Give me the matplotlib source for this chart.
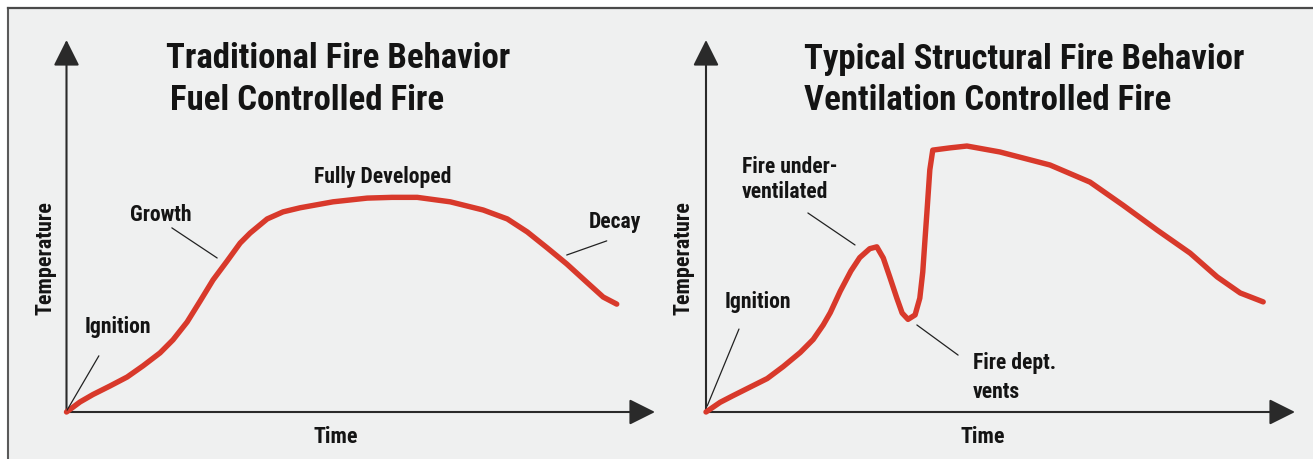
import matplotlib
matplotlib.use('Agg')
import matplotlib.pyplot as plt
from matplotlib import font_manager as fm
from matplotlib.lines import Line2D
from matplotlib.patches import Rectangle

# ---------------- data ----------------
trad_time = [0, 2.3, 4.5, 7.4, 10.3, 13.0, 15.9, 18.1, 20.5, 22.7, 24.9, 27.3, 29.5,
             31.2, 34.1, 36.8, 39.7, 45.3, 51.1, 55.3, 59.6, 65.2, 70.8, 74.9, 78.3,
             81.7, 85.0, 88.4, 91.2, 93.5]
trad_temp = [0, 2.7, 4.7, 7.0, 9.4, 12.4, 15.9, 19.4, 24.2, 29.8, 35.5, 40.6, 45.4,
             48.1, 51.9, 53.8, 54.9, 56.5, 57.5, 57.7, 57.7, 56.5, 54.3, 51.9, 48.4,
             44.1, 39.8, 34.9, 30.9, 29.0]

struct_time = [0, 2.4, 4.6, 7.5, 10.4, 13.1, 16.0, 18.2, 19.9, 21.1, 22.8, 24.6, 26.1,
               27.8, 29.0, 30.1, 31.2, 32.4, 33.3, 34.3, 35.5, 36.3, 36.8, 37.2, 37.5,
               38.0, 38.5, 41.4, 44.3, 49.9, 58.4, 65.2, 70.8, 76.6, 82.2, 86.8, 90.7,
               94.6]
struct_temp = [0, 2.6, 4.4, 6.7, 9.0, 12.2, 16.0, 19.5, 23.4, 26.7, 32.5, 37.9, 41.5,
               43.9, 44.4, 41.4, 36.3, 30.6, 26.6, 24.9, 26.1, 30.6, 37.6, 46.8, 53.5,
               65.1, 70.4, 71.0, 71.5, 69.9, 66.4, 61.8, 55.6, 48.9, 42.7, 36.3, 32.0,
               29.6]

trad_title = ["Traditional Fire Behavior", "Fuel Controlled Fire"]
struct_title = ["Typical Structural Fire Behavior", "Ventilation Controlled Fire"]
trad_notes = ["Fully Developed", "Growth", "Decay", "Ignition"]
struct_notes = ["Fire under-", "ventilated", "Ignition", "Fire dept.", "vents"]
x_label = "Time"
y_label = "Temperature"


# ---------------- font choice (a condensed bold face if one is installed) ----------------
def _font_index():
    files = [f.fname for f in fm.fontManager.ttflist]
    return {p.lower().replace(' ', '').split('/')[-1].rsplit('.', 1)[0]: p for p in files}


def pick_font(prefs):
    low = _font_index()
    for pref in prefs:
        if pref in low:
            return low[pref]
    for k, p in low.items():
        if ('narrow' in k or 'condensed' in k) and 'bold' in k and 'italic' not in k \
                and 'oblique' not in k and 'semi' not in k and 'extra' not in k:
            return p
    return None


BOLD_PREFS = ['liberationsansnarrow-bold', 'robotocondensed-bold', 'opensans-condensedbold',
              'opensanscondensed-bold', 'opensans_condensed-bold', 'notosans-condensedbold',
              'dejavusanscondensed-bold', 'arialnarrow-bold']
HEAVY_PREFS = ['robotocondensed-black', 'robotocondensed-extrabold',
               'notosans-condensedblack', 'notosans-condensedextrabold',
               'opensans-condensedextrabold'] + BOLD_PREFS

FONT_FILE = pick_font(BOLD_PREFS)
TITLE_FONT_FILE = pick_font(HEAVY_PREFS)


def fprops(size, heavy=False):
    f = TITLE_FONT_FILE if heavy else FONT_FILE
    if f:
        return fm.FontProperties(fname=f, size=size)
    return fm.FontProperties(family='DejaVu Sans', weight='bold', size=size)


# ---------------- style ----------------
W, H = 1313, 459
RED = '#d8392b'
AXC = '#2a2a2a'
BG = '#eff0f0'
TXT = '#141414'

fig = plt.figure(figsize=(W / 100, H / 100), dpi=100)
fig.patch.set_facecolor('white')
fig.add_artist(Rectangle((8 / W, 0), 1 - 8 / W, 1 - 8 / H, transform=fig.transFigure,
                         facecolor=BG, edgecolor='none', zorder=-5))
fig.add_artist(Line2D([7.5 / W, 7.5 / W], [0, 1 - 7.5 / H], transform=fig.transFigure,
                      color='#5a5a5a', lw=1.5, zorder=-4))
fig.add_artist(Line2D([7.5 / W, 1], [1 - 7.5 / H, 1 - 7.5 / H], transform=fig.transFigure,
                      color='#4a4a4a', lw=1.6, zorder=-4))


def make_axes(x0px, wpx):
    ax = fig.add_axes([x0px / W, (H - 412) / H, wpx / W, 372 / H])
    ax.set_xlim(0, 100)
    ax.set_ylim(0, 100)
    ax.patch.set_alpha(0)
    for s in ax.spines.values():
        s.set_visible(False)
    ax.set_xticks([])
    ax.set_yticks([])
    arrow = dict(arrowstyle='-|>,head_length=0.8,head_width=0.4', color=AXC,
                 lw=1.5, shrinkA=0, shrinkB=0, mutation_scale=20)
    ax.annotate('', xy=(1, 0), xytext=(0, 0), xycoords='axes fraction',
                textcoords='axes fraction', arrowprops=arrow)
    ax.annotate('', xy=(0, 1), xytext=(0, 0), xycoords='axes fraction',
                textcoords='axes fraction', arrowprops=arrow)
    return ax


def leader(ax, p0, p1):
    ax.annotate('', xy=p1, xytext=p0,
                arrowprops=dict(arrowstyle='-', color='#222222', lw=0.9,
                                shrinkA=0, shrinkB=0))


ax1 = make_axes(66.5, 588.5)
ax2 = make_axes(706, 589)

titles, notes, labels = [], [], []

# ---------------- left panel ----------------
ax1.plot(trad_time, trad_temp, color=RED, lw=3.9, solid_capstyle='round',
         solid_joinstyle='round', clip_on=False, zorder=3)
titles.append((ax1.text(16.9, 92.4, trad_title[0], va='baseline', ha='left', color=TXT), 347))
titles.append((ax1.text(17.6, 81.2, trad_title[1], va='baseline', ha='left', color=TXT), 272))
notes.append((ax1.text(53.7, 61.6, trad_notes[0], ha='center', va='baseline', color=TXT), 146))
notes.append((ax1.text(16.1, 51.3, trad_notes[1], ha='center', va='baseline', color=TXT), 66))
notes.append((ax1.text(93.2, 49.5, trad_notes[2], ha='center', va='baseline', color=TXT), 57))
notes.append((ax1.text(8.75, 21.2, trad_notes[3], ha='center', va='baseline', color=TXT), 70))
leader(ax1, (5.5, 15.1), (0.1, 0.5))
leader(ax1, (17.9, 49.5), (25.6, 41.4))
leader(ax1, (91.8, 46.0), (85.0, 42.2))
ax1.set_xlabel(x_label, va='baseline', color=TXT)
ax1.xaxis.set_label_coords(0.458, -0.083)
ax1.set_ylabel(y_label, va='center', ha='center', color=TXT)
ax1.yaxis.set_label_coords(-0.0357, 0.414)
labels += [(ax1.xaxis.label, 44), (ax1.yaxis.label, 117)]

# ---------------- right panel ----------------
ax2.plot(struct_time, struct_temp, color=RED, lw=3.9, solid_capstyle='round',
         solid_joinstyle='round', clip_on=False, zorder=3)
titles.append((ax2.text(16.6, 92.2, struct_title[0], va='baseline', ha='left', color=TXT), 438))
titles.append((ax2.text(16.6, 81.2, struct_title[1], va='baseline', ha='left', color=TXT), 372))
notes.append((ax2.text(6.1, 64.2, struct_notes[0], ha='left', va='baseline', color=TXT), 76))
notes.append((ax2.text(6.1, 57.5, struct_notes[1], ha='left', va='baseline', color=TXT), 90))
notes.append((ax2.text(8.8, 28.0, struct_notes[2], ha='center', va='baseline', color=TXT), 70))
notes.append((ax2.text(45.3, 11.6, struct_notes[3], ha='left', va='baseline', color=TXT), 68))
notes.append((ax2.text(45.3, 3.8, struct_notes[4], ha='left', va='baseline', color=TXT), 48))
leader(ax2, (17.3, 53.5), (25.3, 44.9))
leader(ax2, (5.6, 22.3), (0.2, 1.6))
leader(ax2, (35.8, 23.4), (42.8, 15.3))
ax2.set_xlabel(x_label, va='baseline', color=TXT)
ax2.xaxis.set_label_coords(0.470, -0.083)
ax2.set_ylabel(y_label, va='center', ha='center', color=TXT)
ax2.yaxis.set_label_coords(-0.0374, 0.414)
labels += [(ax2.xaxis.label, 44), (ax2.yaxis.label, 115)]


# ---------------- size each text group so its width matches the reference ----------------
def fit_group(group, base, cap, heavy=False):
    for t, _ in group:
        t.set_fontproperties(fprops(base, heavy))
    fig.canvas.draw()
    r = fig.canvas.get_renderer()
    ratios = []
    for t, target in group:
        bb = t.get_window_extent(r)
        w = bb.height if t.get_rotation() == 90 else bb.width
        ratios.append(target / w)
    size = min(cap, base * sum(ratios) / len(ratios))
    for t, _ in group:
        t.set_fontproperties(fprops(size, heavy))


fit_group(titles, 26, 30, heavy=True)
fit_group(notes, 16, 17)
fit_group(labels, 16, 17)

fig.savefig('out.png', dpi=100, facecolor=fig.get_facecolor())
